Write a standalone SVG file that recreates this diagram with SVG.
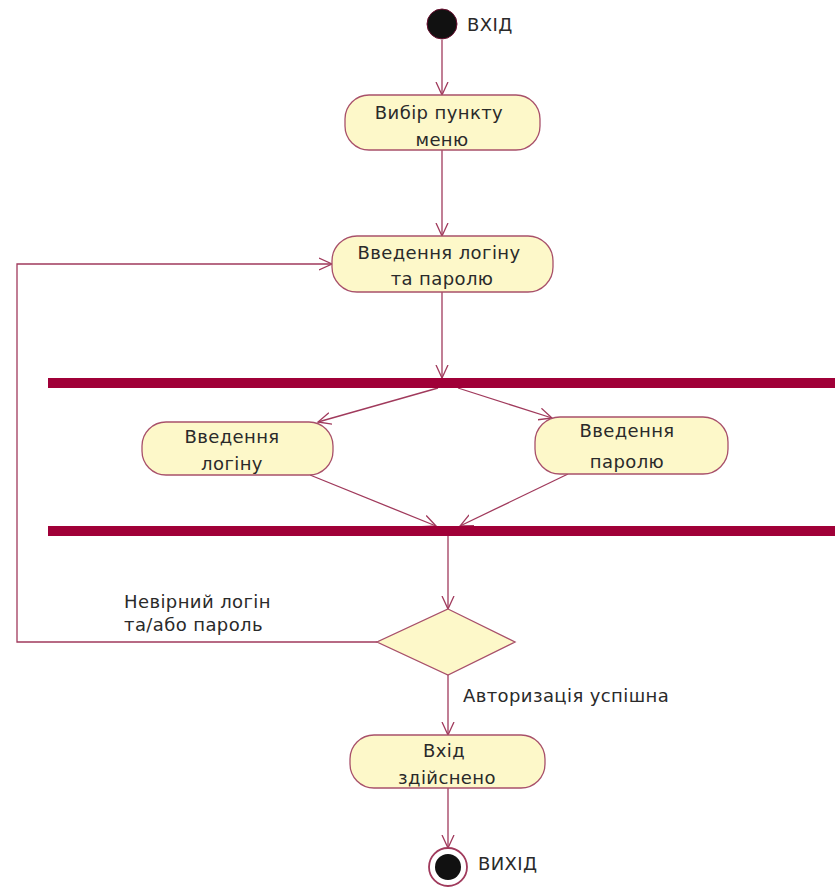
<svg xmlns="http://www.w3.org/2000/svg" width="835" height="895" viewBox="0 0 835 895">
  <style>
    .act { fill: #fdf8c9; stroke: #a8506a; stroke-width: 1.3; }
    .edge { fill: none; stroke: #a03a5c; stroke-width: 1.3; }
    .bar { fill: #a00038; }
    .t { font-family: "DejaVu Sans", Verdana, sans-serif; font-size: 18px; letter-spacing: 0.4px; fill: #2a2a2a; text-anchor: middle; }
    .lbl { font-family: "DejaVu Sans", Verdana, sans-serif; font-size: 18px; letter-spacing: 0.4px; fill: #2a2a2a; }
  </style>
  <defs>
    <marker id="open" viewBox="0 0 14 14" refX="13" refY="7" markerWidth="14" markerHeight="14" markerUnits="userSpaceOnUse" orient="auto">
      <path d="M0,1 L13,7 L0,13" fill="none" stroke="#a03a5c" stroke-width="1.3"/>
    </marker>
  </defs>

  <!-- connectors -->
  <g id="connectors">
    <line class="edge" x1="442" y1="40" x2="442" y2="95" marker-end="url(#open)"/>
    <line class="edge" x1="442" y1="150" x2="442" y2="236" marker-end="url(#open)"/>
    <line class="edge" x1="442" y1="292" x2="442" y2="378" marker-end="url(#open)"/>
    <line class="edge" x1="438" y1="388" x2="318" y2="422" marker-end="url(#open)"/>
    <line class="edge" x1="458" y1="388" x2="552" y2="418" marker-end="url(#open)"/>
    <line class="edge" x1="310" y1="475" x2="436" y2="526" marker-end="url(#open)"/>
    <line class="edge" x1="568" y1="474" x2="460" y2="526" marker-end="url(#open)"/>
    <line class="edge" x1="448" y1="536" x2="448" y2="609" marker-end="url(#open)"/>
    <polyline class="edge" points="377,642 17,642 17,264 332,264" marker-end="url(#open)"/>
    <line class="edge" x1="448" y1="674" x2="448" y2="735" marker-end="url(#open)"/>
    <line class="edge" x1="448" y1="788" x2="448" y2="848" marker-end="url(#open)"/>
  </g>

  <!-- initial node -->
  <g id="start">
    <circle cx="442" cy="24" r="15" fill="#111" stroke="#6a1030" stroke-width="1"/>
    <text class="lbl" x="467" y="31" font-size="16" letter-spacing="0">ВХІД</text>
  </g>

  <g id="menu">
    <rect class="act" x="345" y="95" width="195" height="55" rx="24" ry="24"/>
    <text class="t" x="439" y="119">Вибір пункту</text>
    <text class="t" x="442" y="146">меню</text>
  </g>

  <g id="enterBoth">
    <rect class="act" x="332" y="236" width="221" height="56" rx="25" ry="25"/>
    <text class="t" x="439" y="259">Введення логіну</text>
    <text class="t" x="442" y="285">та паролю</text>
  </g>

  <g id="fork">
    <rect class="bar" x="48" y="378" width="787" height="10"/>
  </g>

  <g id="enterLogin">
    <rect class="act" x="142" y="422" width="191" height="53" rx="24" ry="24"/>
    <text class="t" x="232" y="443">Введення</text>
    <text class="t" x="232" y="470">логіну</text>
  </g>

  <g id="enterPassword">
    <rect class="act" x="535" y="417" width="193" height="57" rx="25" ry="25"/>
    <text class="t" x="627" y="437">Введення</text>
    <text class="t" x="627" y="468">паролю</text>
  </g>

  <g id="join">
    <rect class="bar" x="48" y="526" width="787" height="10"/>
  </g>

  <g id="decision">
    <polygon class="act" points="448,609 515,642 448,675 377,642"/>
    <text class="lbl" x="124" y="608">Невірний логін</text>
    <text class="lbl" x="124" y="631">та/або пароль</text>
    <text class="lbl" x="463" y="702">Авторизація успішна</text>
  </g>

  <g id="done">
    <rect class="act" x="350" y="735" width="195" height="53" rx="24" ry="24"/>
    <text class="t" x="444" y="757">Вхід</text>
    <text class="t" x="447" y="784">здійснено</text>
  </g>

  <!-- final node -->
  <g id="end">
    <circle cx="448" cy="867" r="19" fill="#fff" stroke="#a03a5c" stroke-width="1.8"/>
    <circle cx="448" cy="867" r="13" fill="#111"/>
    <text class="lbl" x="478" y="870" font-size="16" letter-spacing="0">ВИХІД</text>
  </g>
</svg>
